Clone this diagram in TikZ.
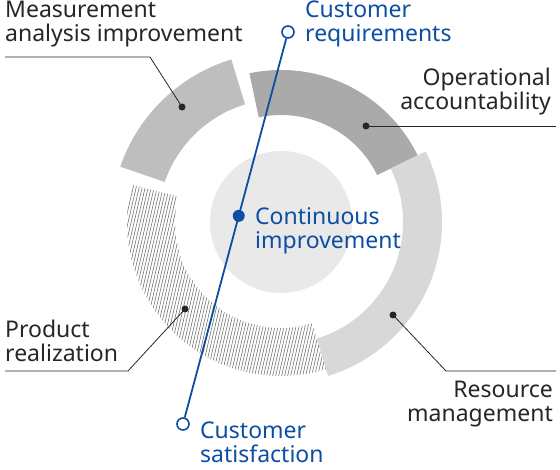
\documentclass[tikz,border=0pt]{standalone}
\usepackage{fontspec}
\setmainfont{Noto Sans}
\usetikzlibrary{calc}
\definecolor{QMblue}{HTML}{0B4EA2}
\definecolor{segMeasure}{HTML}{BEBEBE}
\definecolor{segOper}{HTML}{AAAAAA}
\definecolor{segRes}{HTML}{D8D8D8}
\definecolor{coreGray}{HTML}{E9E9E9}
\tikzset{
  qm/label/.style={font=\fontsize{23}{24}\selectfont, align=left, inner sep=0pt, text=black!85},
  qm/bluelabel/.style={qm/label, text=QMblue},
  qm/leader/.style={black!85, line width=0.8pt},
  qm/dot/.style={circle, fill=black!85, inner sep=0pt, minimum size=7pt},
  qm/open/.style={circle, draw=QMblue, fill=white, line width=1.6pt, inner sep=0pt, minimum size=12pt},
  qm/hub/.style={circle, fill=QMblue, inner sep=0pt, minimum size=12pt},
  qm/axis/.style={QMblue, line width=1.8pt},
  qm/hatch/.style={black!55, line width=0.6pt}
}
% colour, from, to, inner, outer
\newcommand{\ringseg}[5]{%
  \fill[#1] ($(ctr)+(#2:#5)$) arc[start angle=#2, end angle=#3, radius=#5]
    -- ($(ctr)+(#3:#4)$) arc[start angle=#3, end angle=#2, radius=#4] -- cycle;}

\begin{document}
\begin{tikzpicture}[x=1pt, y=1pt]
  \useasboundingbox (0,0) rectangle (560,469);
  \coordinate (ctr) at (281,247);

  % ring
  \ringseg{segMeasure}{107}{161}{123}{170}
  \ringseg{segOper}{26}{102}{107}{152}
  \ringseg{segRes}{-73}{26}{122}{161}
  \begin{scope}
    \clip ($(ctr)+(166:154)$) arc[start angle=166, end angle=287, radius=154]
      -- ($(ctr)+(287:106)$) arc[start angle=287, end angle=166, radius=106] -- cycle;
    \foreach \x in {40,43,...,340}
      \draw[qm/hatch] (\x,60) -- ++(77:300);
  \end{scope}
  \fill[coreGray] (ctr) circle[radius=71];

  % labels (anchored at the baseline of the last line)
  \node[qm/label, anchor=base west] (measure) at (5,427) {Measurement\\analysis improvement};
  \node[qm/label, anchor=base east, align=right] (oper) at (551,359) {Operational\\accountability};
  \node[qm/label, anchor=base east, align=right] (res) at (553,47) {Resource\\management};
  \node[qm/label, anchor=base west] (prod) at (5,107) {Product\\realization};
  \node[qm/bluelabel, anchor=base west] (reqlbl) at (305,427) {Customer\\requirements};
  \node[qm/bluelabel, anchor=base west] (sollbl) at (255,220) {Continuous\\improvement};
  \node[qm/bluelabel, anchor=base west] (satlbl) at (200,6.5) {Customer\\satisfaction};

  % leaders
  \node[qm/dot] (mdot) at (182,362) {};
  \node[qm/dot] (odot) at (366,343) {};
  \node[qm/dot] (rdot) at (393,154) {};
  \node[qm/dot] (pdot) at (185,160) {};
  \coordinate (mbend) at (150,412);
  \coordinate (mend) at (5,412);
  \coordinate (oend) at (556,343);
  \coordinate (rbend) at (446,98);
  \coordinate (rend) at (556,98);
  \coordinate (pbend) at (128,98);
  \coordinate (pend) at (5,98);
  \draw[qm/leader] (mdot.center) -- (mbend) -- (mend);
  \draw[qm/leader] (odot.center) -- (oend);
  \draw[qm/leader] (rdot.center) -- (rbend) -- (rend);
  \draw[qm/leader] (pdot.center) -- (pbend) -- (pend);

  % customer axis
  \node[qm/open] (req) at (288,437) {};
  \node[qm/open] (sat) at (183,45) {};
  \draw[qm/axis] (req) -- (sat);
  \node[qm/hub] (hub) at ($(req)!0.469!(sat)$) {};
\end{tikzpicture}
\end{document}
